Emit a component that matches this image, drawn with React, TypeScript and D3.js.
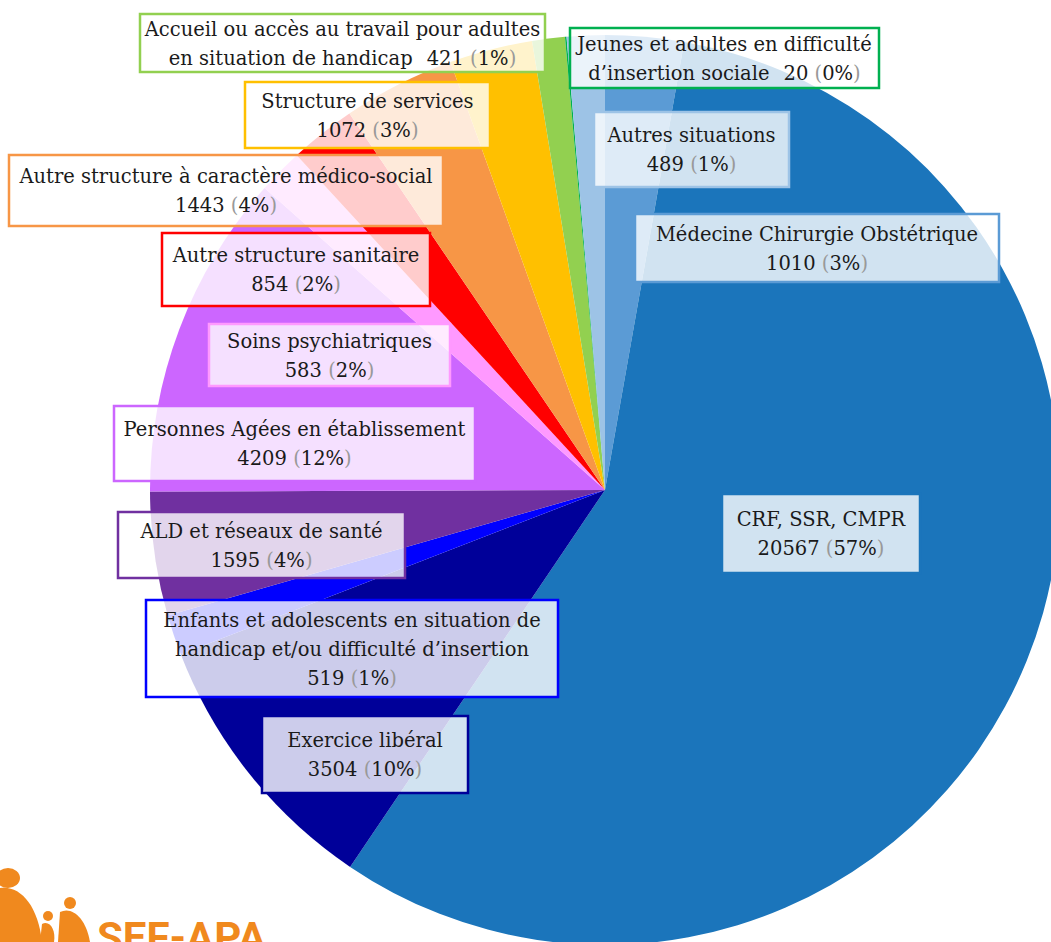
import * as d3 from 'd3'

// slice values, clockwise from 12 o'clock
const categories = [
  'Médecine Chirurgie Obstétrique',
  'CRF, SSR, CMPR',
  'Exercice libéral',
  'Enfants et adolescents en situation de handicap et/ou difficulté d’insertion',
  'ALD et réseaux de santé',
  'Personnes Agées en établissement',
  'Soins psychiatriques',
  'Autre structure sanitaire',
  'Autre structure à caractère médico-social',
  'Structure de services',
  'Accueil ou accès au travail pour adultes en situation de handicap',
  'Jeunes et adultes en difficulté d’insertion sociale',
  'Autres situations',
]
const values = [1010, 20567, 3504, 519, 1595, 4209, 583, 854, 1443, 1072, 421, 20, 489]
const colors = [
  '#5b9bd5', '#1b75bb', '#000099', '#0000ff', '#7030a0', '#cc66ff', '#ff99ff',
  '#ff0000', '#f79646', '#ffc000', '#92d050', '#00b050', '#9dc3e6',
]
// label text lines, the value line is added below (or inline for two of them)
const labelLines = [
  ['Médecine Chirurgie Obstétrique'],
  ['CRF, SSR, CMPR'],
  ['Exercice libéral'],
  ['Enfants et adolescents en situation de', 'handicap et/ou difficulté d’insertion'],
  ['ALD et réseaux de santé'],
  ['Personnes Agées en établissement'],
  ['Soins psychiatriques'],
  ['Autre structure sanitaire'],
  ['Autre structure à caractère médico-social'],
  ['Structure de services'],
  ['Accueil ou accès au travail pour adultes', 'en situation de handicap'],
  ['Jeunes et adultes en difficulté', 'd’insertion sociale'],
  ['Autres situations'],
]
const valueInline = [false, false, false, false, false, false, false, false, false, false, true, true, false]

// label box layout (x, y, w, h)
const boxes = [
  [635, 214, 364, 68],
  [722, 494, 198, 79],
  [262, 716, 206, 77],
  [146, 600, 412, 97],
  [118, 512, 287, 66],
  [114, 406, 361, 75],
  [209, 324, 241, 62],
  [162, 233, 268, 73],
  [9, 155, 434, 71],
  [245, 82, 245, 66],
  [140, 14, 405, 58],
  [570, 28, 309, 60],
  [594, 112, 195, 75],
]

const W = 1051
const H = 942
const cx = 605
const cy = 490
const R = 455

export default function App() {
  const total = d3.sum(values)
  const pie = d3.pie<number>().sort(null).startAngle(0).endAngle(2 * Math.PI)
  const arcs = pie(values)
  const arc = d3.arc<d3.PieArcDatum<number>>().innerRadius(0).outerRadius(R)
  const pct = (v: number) => Math.round((v / total) * 100)

  const font = 'DejaVu Serif, serif'
  const fs = 19.5
  const lh = 29

  return (
    <svg width={W} height={H} style={{ position: 'fixed', left: 0, top: 0, background: '#fff' }}>
      <g transform={`translate(${cx},${cy})`}>
        {arcs.map((a, i) => (
          <path key={i} d={arc(a) || ''} fill={colors[i]} />
        ))}
      </g>

      {boxes.map(([x, y, w, h], i) => {
        const lines = labelLines[i]
        const n = valueInline[i] ? lines.length : lines.length + 1
        const top = y + h / 2 - ((n - 1) * lh) / 2 + fs * 0.36
        const mid = x + w / 2
        const valueSpans = (
          <>
            <tspan>{values[i]} </tspan>
            <tspan fill="#999">(</tspan>
            <tspan>{pct(values[i])}%</tspan>
            <tspan fill="#999">)</tspan>
          </>
        )
        return (
          <g key={i}>
            <rect x={x} y={y} width={w} height={h} fill="#fff" fillOpacity={0.8} stroke={colors[i]} strokeWidth={2.5} />
            <text textAnchor="middle" fontFamily={font} fontSize={fs} fill="#1a1a1a">
              {lines.map((l, j) => (
                <tspan key={j} x={mid} y={top + j * lh}>
                  {l}
                  {valueInline[i] && j === lines.length - 1 ? <tspan dx={14}>{valueSpans}</tspan> : null}
                </tspan>
              ))}
              {!valueInline[i] && (
                <tspan x={mid} y={top + lines.length * lh}>
                  {valueSpans}
                </tspan>
              )}
            </text>
          </g>
        )
      })}

      {/* logo */}
      <g fill="#f0891e">
        <ellipse cx={8} cy={878} rx={12} ry={10} />
        <path d="M0,888 C20,885 38,905 42,942 L0,942 Z" />
        <circle cx={48} cy={916} r={5} />
        <path d="M42,924 C50,920 56,930 54,942 L40,942 Z" />
        <circle cx={70} cy={903} r={6} />
        <path d="M60,912 C72,906 86,918 90,942 L58,942 Z" />
        <text x={97} y={952} fontFamily="Roboto, sans-serif" fontWeight="bold" fontSize={42}>SEF-APA</text>
      </g>
    </svg>
  )
}
